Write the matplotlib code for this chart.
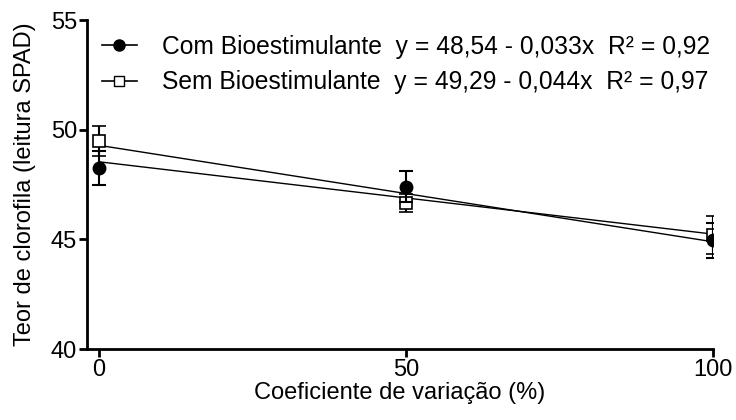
import matplotlib
matplotlib.use("Agg")
import matplotlib.pyplot as plt
import numpy as np

plt.rcParams['font.family'] = ['Liberation Sans', 'DejaVu Sans']

cv = [0, 50, 100]

com_mean = [48.25, 47.4, 44.95]
com_err = [0.78, 0.7, 0.8]
sem_mean = [49.5, 46.65, 45.2]
sem_err = [0.68, 0.4, 0.85]

com_fit = (48.54, -0.033)
sem_fit = (49.29, -0.044)

com_label = "Com Bioestimulante  y = 48,54 - 0,033x  R² = 0,92"
sem_label = "Sem Bioestimulante  y = 49,29 - 0,044x  R² = 0,97"

xline = np.array([cv[0], cv[-1]])

fig = plt.figure(figsize=(7.36, 4.2), dpi=100)
ax = fig.add_axes([0.118, 0.169, 0.851, 0.783])

ax.plot(xline, sem_fit[0] + sem_fit[1] * xline, color="black", lw=1, zorder=2)
ax.plot(xline, com_fit[0] + com_fit[1] * xline, color="black", lw=1, zorder=2)

ax.errorbar(cv, sem_mean, yerr=sem_err, fmt="s", color="black", mfc="white",
            mec="black", ms=8, mew=1.2, ecolor="black", elinewidth=1.5,
            capsize=5, capthick=1.5, zorder=3)
ax.errorbar(cv, com_mean, yerr=com_err, fmt="o", color="black", mfc="black",
            ms=9, ecolor="black", elinewidth=1.5, capsize=5, capthick=1.5,
            zorder=4)

# legend handles: line with marker in the middle
h1, = ax.plot([], [], color="black", lw=1.2, marker="o", ms=8, mfc="black")
h2, = ax.plot([], [], color="black", lw=1.2, marker="s", ms=7, mfc="white")
ax.legend([h1, h2], [com_label, sem_label], loc="upper left",
          bbox_to_anchor=(0.0, 1.0), frameon=False, fontsize=17.7,
          handlelength=1.45, handletextpad=1.0, labelspacing=0.47,
          borderaxespad=0.2)

ax.set_xlim(-2, 100)
ax.set_ylim(40, 55)
ax.set_xticks([0, 50, 100])
ax.set_yticks([40, 45, 50, 55])

for s in ["top", "right"]:
    ax.spines[s].set_visible(False)
for s in ["left", "bottom"]:
    ax.spines[s].set_linewidth(2)

ax.tick_params(axis="both", direction="out", length=6, width=2,
               labelsize=17, pad=1, colors="black")

ax.set_xlabel("Coeficiente de variação (%)", fontsize=17, labelpad=1)
ax.set_ylabel("Teor de clorofila (leitura SPAD)", fontsize=17, labelpad=11)

fig.savefig("out.png", dpi=100)
